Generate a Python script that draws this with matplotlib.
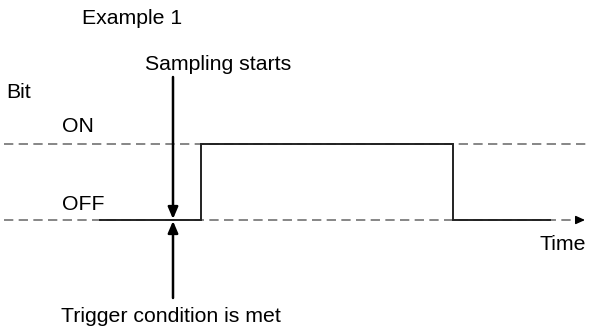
import matplotlib.pyplot as plt

plt.rcParams['font.family'] = ['Liberation Sans', 'DejaVu Sans']

# levels (pixel rows of the figure) and signal edges
level_names = ["ON", "OFF"]
level_y = [144, 220]
sig_x = [100, 201, 201, 453, 453, 550]
sig_y = [220, 220, 144, 144, 220, 220]
trigger_x = 173

fig = plt.figure(figsize=(5.9, 3.29), dpi=100)
ax = fig.add_axes([0, 0, 1, 1])
ax.set_xlim(0, 590)
ax.set_ylim(329, 0)
ax.axis("off")

# dashed reference lines
dash = (0, (6.1, 3.5))
ax.plot([4, 590], [level_y[0], level_y[0]], ls=dash, color="#666666", lw=1.1)
ax.plot([4, 578], [level_y[1], level_y[1]], ls=dash, color="#666666", lw=1.1)
ax.annotate("", xy=(585, level_y[1]), xytext=(576, level_y[1]),
            annotation_clip=False,
            arrowprops=dict(arrowstyle="-|>,head_length=0.55,head_width=0.25",
                            color="black", lw=1, shrinkA=0, shrinkB=0))

# bit signal
ax.plot(sig_x, sig_y, color="#222222", lw=1.4, solid_joinstyle="miter")

# sampling start / trigger arrows
arrow = dict(arrowstyle="-|>,head_length=0.7,head_width=0.3",
             color="black", lw=1.8, shrinkA=0, shrinkB=0)
ax.annotate("", xy=(trigger_x, level_y[1] - 1), xytext=(trigger_x, 77), arrowprops=arrow)
ax.annotate("", xy=(trigger_x, level_y[1] + 1), xytext=(trigger_x, 298), arrowprops=arrow)

fs = 15.3
ax.text(82, 18, "Example 1", fontsize=fs, va="center")
ax.text(145, 64, "Sampling starts", fontsize=fs, va="center")
ax.text(6, 92, "Bit", fontsize=fs, va="center")
ax.text(62, 127, level_names[0], fontsize=fs, va="center")
ax.text(62, 204, level_names[1], fontsize=fs, va="center")
ax.text(586, 245, "Time", fontsize=fs, va="center", ha="right")
ax.text(61, 316, "Trigger condition is met", fontsize=fs, va="center")

fig.savefig("out.png", dpi=100)
